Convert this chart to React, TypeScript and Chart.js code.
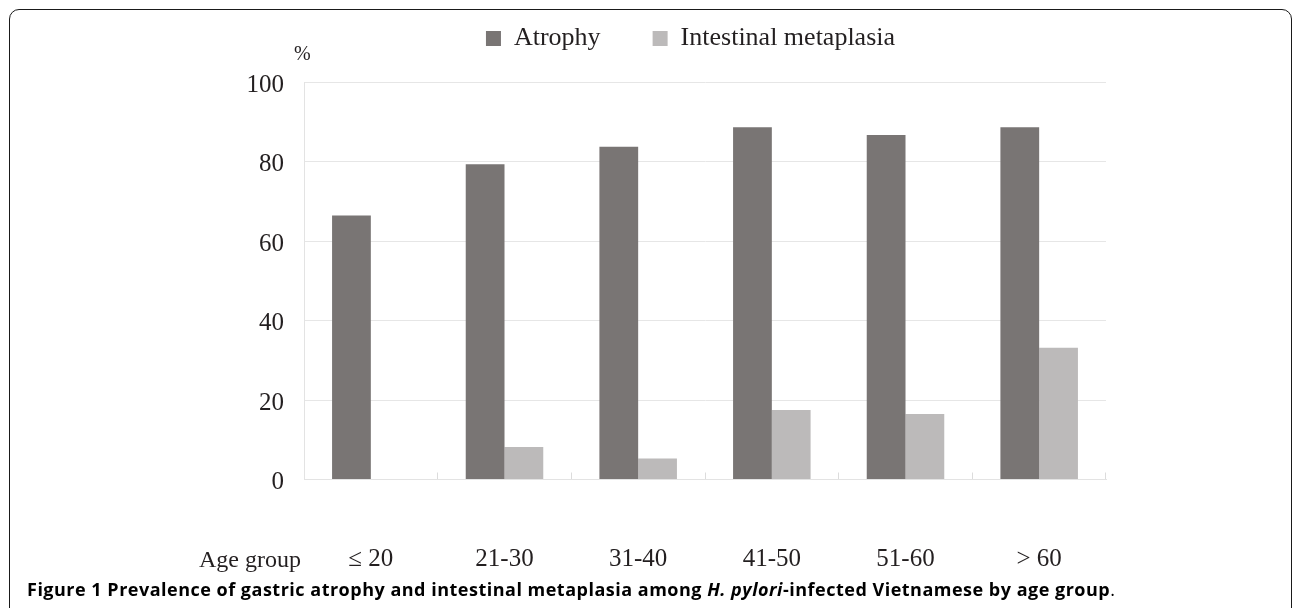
import React, { useEffect, useRef } from "react";
import { Chart, registerables, layouts } from "chart.js";

Chart.register(...registerables);

const categories = ["≤ 20", "21-30", "31-40", "41-50", "51-60", "> 60"];
const atrophyValues = [66.5, 79.4, 83.8, 88.7, 86.8, 88.7];
const metaplasiaValues = [0, 8.2, 5.3, 17.5, 16.5, 33.2];
const seriesLabels = ["Atrophy", "Intestinal metaplasia"];
const yTickValues = [0, 20, 40, 60, 80, 100];

const SERIF = '"Liberation Serif", "Times New Roman", serif';
const SANS = '"Open Sans", "Noto Sans", sans-serif';
const TEXT = "#231f20";

function makeSpacer(position: string, weight: number, size: number) {
  const horizontal = position === "top" || position === "bottom";
  const box: any = {
    position,
    weight,
    fullSize: false,
    options: {},
    left: 0,
    top: 0,
    right: 0,
    bottom: 0,
    width: 0,
    height: 0,
    isHorizontal() {
      return horizontal;
    },
    update(maxWidth: number, maxHeight: number) {
      if (horizontal) {
        box.width = maxWidth;
        box.height = size;
      } else {
        box.width = size;
        box.height = maxHeight;
      }
    },
    draw() {},
  };
  return box;
}

const layoutSpacers = {
  id: "layoutSpacers",
  beforeInit(chart: any) {
    layouts.addBox(chart, makeSpacer("top", 500, 21));
    layouts.addBox(chart, makeSpacer("right", 500, 29));
  },
};

export default function App() {
  const canvasRef = useRef<HTMLCanvasElement | null>(null);

  useEffect(() => {
    if (!canvasRef.current) return;
    const chart = new Chart(canvasRef.current, {
      type: "bar",
      data: {
        labels: categories,
        datasets: [
          {
            label: seriesLabels[0],
            data: atrophyValues,
            backgroundColor: "#797574",
            borderWidth: 0,
            categoryPercentage: 0.58,
            barPercentage: 1,
          },
          {
            label: seriesLabels[1],
            data: metaplasiaValues,
            backgroundColor: "#bcbaba",
            borderWidth: 0,
            categoryPercentage: 0.58,
            barPercentage: 1,
          },
        ],
      },
      plugins: [layoutSpacers],
      options: {
        animation: false,
        responsive: true,
        maintainAspectRatio: false,
        devicePixelRatio: 1,
        layout: { padding: { top: -26.5, left: 246, right: 157, bottom: 35.5 } },
        plugins: {
          legend: {
            position: "top",
            fullSize: true,
            align: "center",
            labels: {
              boxWidth: 15,
              boxHeight: 15,
              padding: 52,
              color: TEXT,
              font: { family: SERIF, size: 26 },
            },
          },
          tooltip: { enabled: false },
        },
        scales: {
          x: {
            grid: {
              display: true,
              drawOnChartArea: false,
              drawTicks: true,
              tickLength: -7,
              offset: true,
              color: "#dcdcdc",
            },
            border: { display: true, color: "#e3e3e3" },
            ticks: {
              color: TEXT,
              font: { family: SERIF, size: 25 },
              padding: 71.5,
              maxRotation: 0,
              autoSkip: false,
            },
            afterFit: (s: any) => {
              s.height = 93;
            },
          },
          y: {
            min: yTickValues[0],
            max: yTickValues[yTickValues.length - 1],
            afterBuildTicks: (s: any) => {
              s.ticks = yTickValues.map((v) => ({ value: v }));
            },
            ticks: {
              padding: 20,
              labelOffset: 3,
              color: TEXT,
              font: { family: SERIF, size: 25 },
            },
            grid: { color: "#e6e6e6", drawTicks: false },
            border: { display: true, color: "#e3e3e3" },
            afterFit: (s: any) => {
              s.width = 58;
            },
          },
        },
      },
    });
    return () => chart.destroy();
  }, []);

  return (
    <div
      style={{
        position: "absolute",
        left: 0,
        top: 0,
        width: 1292,
        height: 608,
        overflow: "hidden",
        background: "#ffffff",
      }}
    >
      <div
        style={{
          position: "absolute",
          left: 9,
          top: 9,
          width: 1283,
          height: 700,
          border: "1.5px solid #1a1a1a",
          borderRadius: 10,
          boxSizing: "border-box",
        }}
      />
      <div style={{ position: "absolute", left: 0, top: 0, width: 1292, height: 608 }}>
        <canvas ref={canvasRef} />
      </div>
      <div
        style={{
          position: "absolute",
          left: 294,
          top: 43,
          fontFamily: SERIF,
          fontSize: 20,
          lineHeight: "20px",
          color: TEXT,
        }}
      >
        %
      </div>
      <div
        style={{
          position: "absolute",
          right: 1292 - 301,
          top: 547,
          fontFamily: SERIF,
          fontSize: 24,
          lineHeight: "24px",
          color: TEXT,
          whiteSpace: "nowrap",
        }}
      >
        Age group
      </div>
      <div
        style={{
          position: "absolute",
          left: 27,
          top: 579,
          fontFamily: SANS,
          fontSize: 18,
          letterSpacing: "0.5px",
          lineHeight: "20px",
          fontWeight: 700,
          color: "#000",
          whiteSpace: "nowrap",
        }}
      >
        Figure 1 Prevalence of gastric atrophy and intestinal metaplasia among{" "}
        <i>H. pylori</i>-infected Vietnamese by age group
        <span style={{ fontWeight: 400 }}>.</span>
      </div>
    </div>
  );
}
